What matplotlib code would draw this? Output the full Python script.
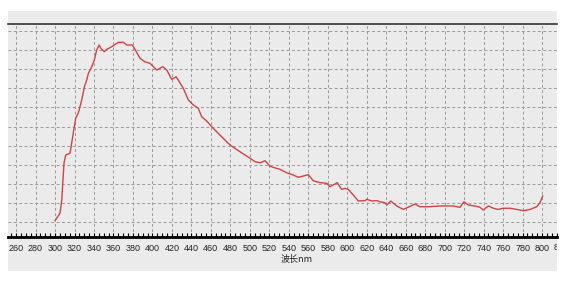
import numpy as np
import matplotlib
matplotlib.use("Agg")
import matplotlib.pyplot as plt
from matplotlib.patches import Rectangle
from matplotlib.ticker import MultipleLocator

# wavelength (nm) and signal (arbitrary units, one unit per grid row)
wavelength = [300.0, 305.1, 306.9, 309.2, 311.0, 315.4, 317.1, 319.8, 321.3, 323.9,
              327.4, 330.1, 332.5, 334.2, 337.7, 340.3, 342.8, 345.2, 347.2, 350.6,
              353.1, 358.2, 365.0, 370.1, 373.6, 379.4, 382.1, 387.3, 392.4, 397.5,
              404.4, 410.6, 414.7, 419.8, 424.2, 426.6, 431.7, 436.9, 442.0, 447.1,
              450.6, 455.7, 460.9, 469.4, 479.7, 489.9, 500.2, 505.3, 510.5, 515.6,
              520.7, 524.1, 531.0, 537.9, 544.7, 549.8, 555.0, 560.1, 565.2, 572.1,
              578.9, 582.3, 585.7, 589.8, 594.3, 597.7, 601.1, 606.3, 611.4, 618.3,
              620.0, 625.2, 630.3, 633.7, 638.8, 640.6, 644.7, 650.8, 657.6, 663.7,
              669.6, 674.7, 683.3, 695.3, 708.9, 715.8, 719.9, 724.3, 731.2, 736.3,
              739.7, 744.9, 750.0, 755.1, 760.2, 767.1, 774.0, 780.8, 787.7, 794.5,
              797.9, 800.7]
signal = [1.07, 1.46, 2.15, 4.09, 4.51, 4.60, 5.14, 5.99, 6.45, 6.71,
          7.39, 8.08, 8.43, 8.78, 9.13, 9.48, 10.01, 10.27, 10.09, 9.92,
          10.04, 10.18, 10.41, 10.41, 10.27, 10.27, 10.04, 9.57, 9.39, 9.31,
          8.96, 9.13, 8.96, 8.47, 8.61, 8.43, 8.00, 7.39, 7.13, 6.95,
          6.51, 6.29, 5.99, 5.55, 5.03, 4.68, 4.34, 4.16, 4.10, 4.21,
          3.93, 3.86, 3.76, 3.58, 3.46, 3.34, 3.41, 3.48, 3.16, 3.06,
          3.03, 2.85, 2.94, 3.06, 2.71, 2.76, 2.71, 2.41, 2.10, 2.12,
          2.19, 2.10, 2.12, 2.06, 2.01, 1.89, 2.10, 1.84, 1.66, 1.80,
          1.94, 1.80, 1.80, 1.84, 1.84, 1.77, 2.06, 1.89, 1.84, 1.77,
          1.63, 1.84, 1.72, 1.66, 1.72, 1.72, 1.66, 1.59, 1.66, 1.80,
          2.01, 2.36]

x_ticks = list(range(260, 801, 20))
y_grid = list(range(1, 12))
x_label = "波长nm"

W, H = 564, 282
fig = plt.figure(figsize=(W / 100, H / 100), dpi=100)
fig.patch.set_facecolor("white")

panel_color = "#ebebeb"
panel = Rectangle((8 / W, 1 - 271 / H), (557 - 8) / W, (271 - 11) / H,
                  transform=fig.transFigure, facecolor=panel_color,
                  edgecolor="none", zorder=-10)
fig.patches.append(panel)

ax = fig.add_axes([8 / W, 1 - 237 / H, (557 - 8) / W, (237 - 24) / H])
ax.set_zorder(5)
ax.set_facecolor(panel_color)

ax.plot(wavelength, signal, color="#cc4444", lw=1.0, zorder=3)

ax.set_xlim(251.7, 815.4)
ax.set_ylim(0.215, 11.37)

ax.set_xticks(x_ticks)
ax.set_xticklabels([str(v) for v in x_ticks], fontsize=6.5,
                   family="Liberation Sans", color="#222222")
ax.xaxis.set_minor_locator(MultipleLocator(5))
ax.tick_params(axis="x", which="both", direction="in", length=3,
               width=0.8, color="black", pad=5)
ax.set_yticks(y_grid)
ax.tick_params(axis="y", which="both", length=0, labelleft=False)

ax.grid(True, which="major", color="#9a9a9a", ls=(0, (3, 2.5)), lw=0.7)

for side in ("left", "right"):
    ax.spines[side].set_visible(False)
ax.spines["top"].set_color("#333333")
ax.spines["top"].set_linewidth(1.2)
ax.spines["bottom"].set_color("black")
ax.spines["bottom"].set_linewidth(2.0)

# the 820 label is cut off by the panel edge
t = ax.text(820, -0.03, "820", transform=ax.get_xaxis_transform(),
            ha="center", va="top", fontsize=6.5, family="Liberation Sans",
            color="#222222", clip_on=True)
t.set_clip_path(panel)

fig.text(297 / W, 1 - 259 / H, x_label, ha="center", va="center",
         fontsize=6.5, family=["Noto Sans CJK SC", "DejaVu Sans"],
         color="#222222")

fig.savefig("out.png", dpi=100, facecolor="white")
